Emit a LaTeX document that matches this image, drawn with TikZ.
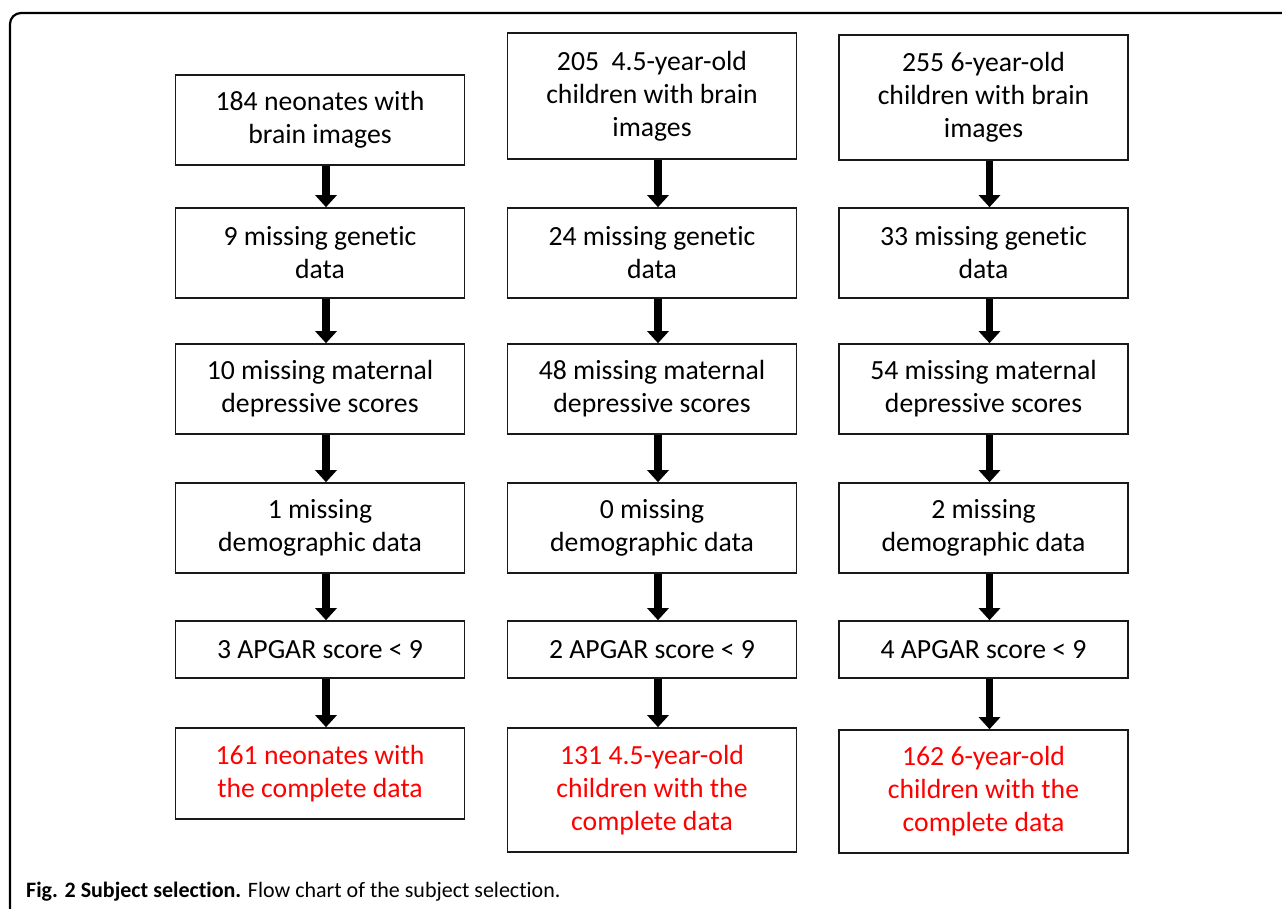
\documentclass[tikz,border=0pt]{standalone}
\usepackage{fontspec}
\setmainfont{Carlito}[Ligatures=NoCommon]
\usetikzlibrary{arrows.meta}
\definecolor{boxred}{RGB}{255,0,0}
\begin{document}
\begin{tikzpicture}[x=1pt,y=-1pt,
  stepbox/.style={draw=black!90,line width=1.6pt,inner sep=0pt,align=center,
    minimum width=289pt,font=\fontsize{27.7}{33}\selectfont},
  redtext/.style={text=boxred},
  arr/.style={line width=7.5pt,-{Triangle[width=21pt,length=12pt]}}]
\useasboundingbox (0,0) rectangle (1282,908);
\draw[line width=2.2pt,rounded corners=11pt] (10,910) -- (10,13) -- (1284,13);
% column 1
\node[stepbox,minimum height=90pt] (a1) at (320,120) {184 neonates with\\brain images};
\node[stepbox,minimum height=90pt] (a2) at (320,253) {9 missing genetic\\data};
\node[stepbox,minimum height=90pt] (a3) at (320,389) {10 missing maternal\\depressive scores};
\node[stepbox,minimum height=90pt] (a4) at (320,528) {1 missing\\demographic data};
\node[stepbox,minimum height=57pt] (a5) at (320,649.5) {3 APGAR score < 9};
\node[stepbox,redtext,minimum height=91pt] (a6) at (320,773.5) {161 neonates with\\the complete data};
% column 2
\node[stepbox,minimum height=126pt] (b1) at (652,96) {205\ \ 4.5-year-old\\children with brain\\images};
\node[stepbox,minimum height=90pt] (b2) at (652,253) {24 missing genetic\\data};
\node[stepbox,minimum height=90pt] (b3) at (652,389) {48 missing maternal\\depressive scores};
\node[stepbox,minimum height=90pt] (b4) at (652,528) {0 missing\\demographic data};
\node[stepbox,minimum height=57pt] (b5) at (652,649.5) {2 APGAR score < 9};
\node[stepbox,redtext,minimum height=124pt] (b6) at (652,790) {131 4.5-year-old\\children with the\\complete data};
% column 3
\node[stepbox,minimum height=125pt] (c1) at (983.5,97.5) {255 6-year-old\\children with brain\\images};
\node[stepbox,minimum height=90pt] (c2) at (983.5,253) {33 missing genetic\\data};
\node[stepbox,minimum height=90pt] (c3) at (983.5,389) {54 missing maternal\\depressive scores};
\node[stepbox,minimum height=90pt] (c4) at (983.5,528) {2 missing\\demographic data};
\node[stepbox,minimum height=57pt] (c5) at (983.5,649.5) {4 APGAR score < 9};
\node[stepbox,redtext,minimum height=123pt] (c6) at (983.5,791.5) {162 6-year-old\\children with the\\complete data};
% arrows
\foreach \c in {a,b,c}{
  \foreach \i/\j in {1/2,2/3,3/4,4/5,5/6}{
    \draw[arr] ([xshift=6pt]\c\i.south) -- ([xshift=6pt]\c\j.north);
  }
}
% caption
\node[anchor=base west,inner sep=0pt,font=\fontsize{22}{26}\selectfont] (cap) at (26,897)
  {\textbf{Fig. 2 Subject selection.} Flow chart of the subject selection.};
\end{tikzpicture}
\end{document}
